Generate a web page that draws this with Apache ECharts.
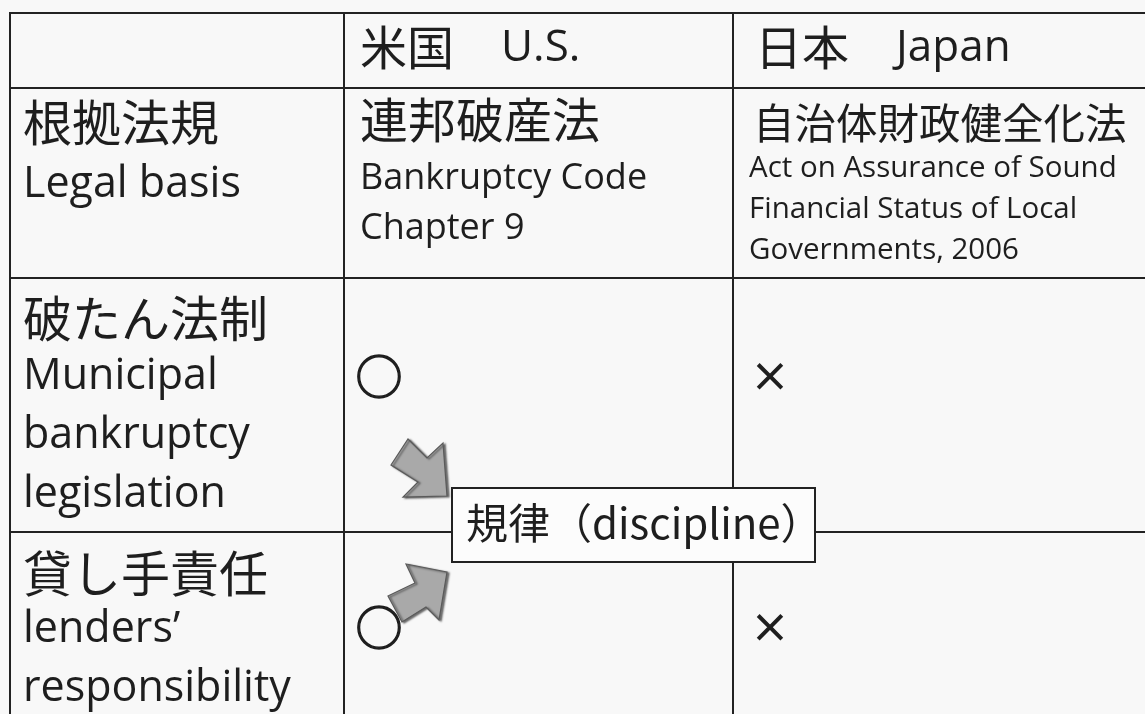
<!DOCTYPE html>
<html>
<head>
<meta charset="utf-8">
<script src="https://cdn.jsdelivr.net/npm/echarts@6/dist/echarts.min.js"></script>
<style>
html,body{margin:0;padding:0;background:#f8f8f8;}
#chart{width:1145px;height:714px;}
</style>
</head>
<body>
<div id="chart"></div>
<script>
// ---- table content ----
const colHeaders = ['', '米国　U.S.', '日本　Japan'];
const rowTitlesJa = ['根拠法規', '破たん法制', '貸し手責任'];
const rowTitlesEn = [['Legal basis'], ['Municipal', 'bankruptcy', 'legislation'], ['lenders’', 'responsibility']];
const usJa = ['連邦破産法', '', ''];
const usEn = [['Bankruptcy Code', 'Chapter 9'], [], []];
const japanJa = ['自治体財政健全化法', '', ''];
const japanEn = [['Act on Assurance of Sound', 'Financial Status of Local', 'Governments, 2006'], [], []];
const usMark = ['', '○', '○'];
const japanMark = ['', '×', '×'];
const calloutText = ['規律（discipline）'];

// ---- layout (axis units = pixels) ----
const layout = {
  colEdges: [10, 344, 733, 1150],
  rowEdges: [13, 88, 278, 532, 760],
  textX: [23, 360, 749],
  headerJaX: [0, 360, 755],
  headerJaDy: 34,
  headerEnDy: 35,
  markDx: [0, 35, 37],
  markDy: [0, 0, 98, 95],
  callout: [452, 488, 815, 562],
  calloutTextX: 466,
  arrows: [
    [[408,439],[427,458],[443,443],[447,496],[403,497],[418,482],[391,465]],
    [[447,572],[406,564],[415,583],[388,596],[402,622],[426,607],[439,620]]
  ]
};
const CJK = "'Noto Sans CJK JP'";
const LAT = "'Open Sans'";
const HEAD_JA = 47, HEAD_EN = 44;
const colText = [
  {jaSize: 49, enSize: 43, enStep: 59, jaDy: [0, 34, 40, 41], enDy: [0, 97, 99, 98]},
  {jaSize: 48, enSize: 36, enStep: 50, jaDy: [0, 32, 0, 0], enDy: [0, 91, 0, 0]},
  {jaSize: 41.5, enSize: 29.5, enStep: 41, jaDy: [0, 35, 0, 0], enDy: [0, 81, 0, 0]}
];
const INK = '#1e1e1e';

function cellContent(c, r) {
  if (r === 0) return {ja: colHeaders[c], en: [], mark: ''};
  const i = r - 1;
  if (c === 0) return {ja: rowTitlesJa[i], en: rowTitlesEn[i], mark: ''};
  if (c === 1) return {ja: usJa[i], en: usEn[i], mark: usMark[i]};
  return {ja: japanJa[i], en: japanEn[i], mark: japanMark[i]};
}

function txt(x, y, text, font, align, strokeW) {
  const st = {
    x: x, y: y, text: text,
    font: font,
    fill: INK,
    align: align || 'left', verticalAlign: 'middle',
    textAlign: align || 'left', textVerticalAlign: 'middle'
  };
  if (strokeW) { st.stroke = INK; st.lineWidth = strokeW; }
  return {type: 'text', style: st};
}

const cellData = [];
for (let r = 0; r < 4; r++) for (let c = 0; c < 3; c++) cellData.push([c, r]);

function renderCell(params, api) {
  const c = api.value(0), r = api.value(1);
  const p0 = api.coord([layout.colEdges[c], layout.rowEdges[r]]);
  const p1 = api.coord([layout.colEdges[c + 1], layout.rowEdges[r + 1]]);
  const children = [{
    type: 'rect',
    shape: {x: p0[0], y: p0[1], width: p1[0] - p0[0], height: p1[1] - p0[1]},
    style: {fill: 'none', stroke: '#222', lineWidth: 2}
  }];
  const cont = cellContent(c, r);
  const tx = api.coord([layout.textX[c], 0])[0];
  if (r === 0) {
    if (cont.ja) {
      const parts = cont.ja.split('　');
      const hx = layout.headerJaX[c];
      children.push(txt(api.coord([hx, 0])[0], api.coord([0, layout.rowEdges[0] + layout.headerJaDy])[1],
        parts[0], HEAD_JA + 'px ' + CJK));
      const ex = hx + (parts[0].length + 1) * HEAD_JA;
      children.push(txt(api.coord([ex, 0])[0], api.coord([0, layout.rowEdges[0] + layout.headerEnDy])[1],
        parts[1], HEAD_EN + 'px ' + LAT));
    }
  } else {
    const ct = colText[c];
    if (cont.ja) {
      const jx = c === 2 ? api.coord([layout.headerJaX[2] - 2, 0])[0] : tx;
      children.push(txt(jx, api.coord([0, layout.rowEdges[r] + ct.jaDy[r]])[1], cont.ja, ct.jaSize + 'px ' + CJK));
    }
    cont.en.forEach(function (line, k) {
      const y = api.coord([0, layout.rowEdges[r] + ct.enDy[r] + k * ct.enStep])[1];
      children.push(txt(tx, y, line, ct.enSize + 'px ' + LAT));
    });
    if (cont.mark) {
      const mp = api.coord([layout.colEdges[c] + layout.markDx[c], layout.rowEdges[r] + layout.markDy[r]]);
      const f = cont.mark === '○' ? '47px ' + CJK : '38px ' + CJK;
      children.push(txt(mp[0], mp[1], cont.mark, f, 'center', 1.4));
    }
  }
  return {type: 'group', children: children};
}

function renderCallout(params, api) {
  const b = layout.callout;
  const q0 = api.coord([b[0], b[1]]), q1 = api.coord([b[2], b[3]]);
  const children = [];
  layout.arrows.forEach(function (pts) {
    children.push({
      type: 'polygon',
      shape: {points: pts.map(function (p) { return api.coord(p); })},
      style: {fill: '#a9a9a9', stroke: '#5a5a5a', lineWidth: 1.2,
        shadowColor: 'rgba(0,0,0,0.55)', shadowBlur: 2, shadowOffsetX: 2, shadowOffsetY: 1}
    });
  });
  children.push({
    type: 'rect',
    shape: {x: q0[0], y: q0[1], width: q1[0] - q0[0], height: q1[1] - q0[1]},
    style: {fill: '#fcfcfc', stroke: '#222', lineWidth: 2}
  });
  const tx = api.coord([layout.calloutTextX, 0])[0];
  children.push(txt(tx, (q0[1] + q1[1]) / 2 - 2, calloutText[params.dataIndex], '42px ' + CJK));
  return {type: 'group', children: children};
}

const chart = echarts.init(document.getElementById('chart'), null, {renderer: 'canvas'});
chart.setOption({
  backgroundColor: '#f8f8f8',
  animation: false,
  grid: {left: 0, right: 0, top: 0, bottom: 0},
  xAxis: {type: 'value', min: 0, max: 1145, show: false},
  yAxis: {type: 'value', min: 0, max: 714, inverse: true, show: false},
  series: [
    {type: 'custom', name: 'table', renderItem: renderCell, data: cellData, silent: true, z: 1},
    {type: 'custom', name: 'callout', renderItem: renderCallout, data: [[0, 0]], silent: true, z: 2}
  ]
});
</script>
</body>
</html>
